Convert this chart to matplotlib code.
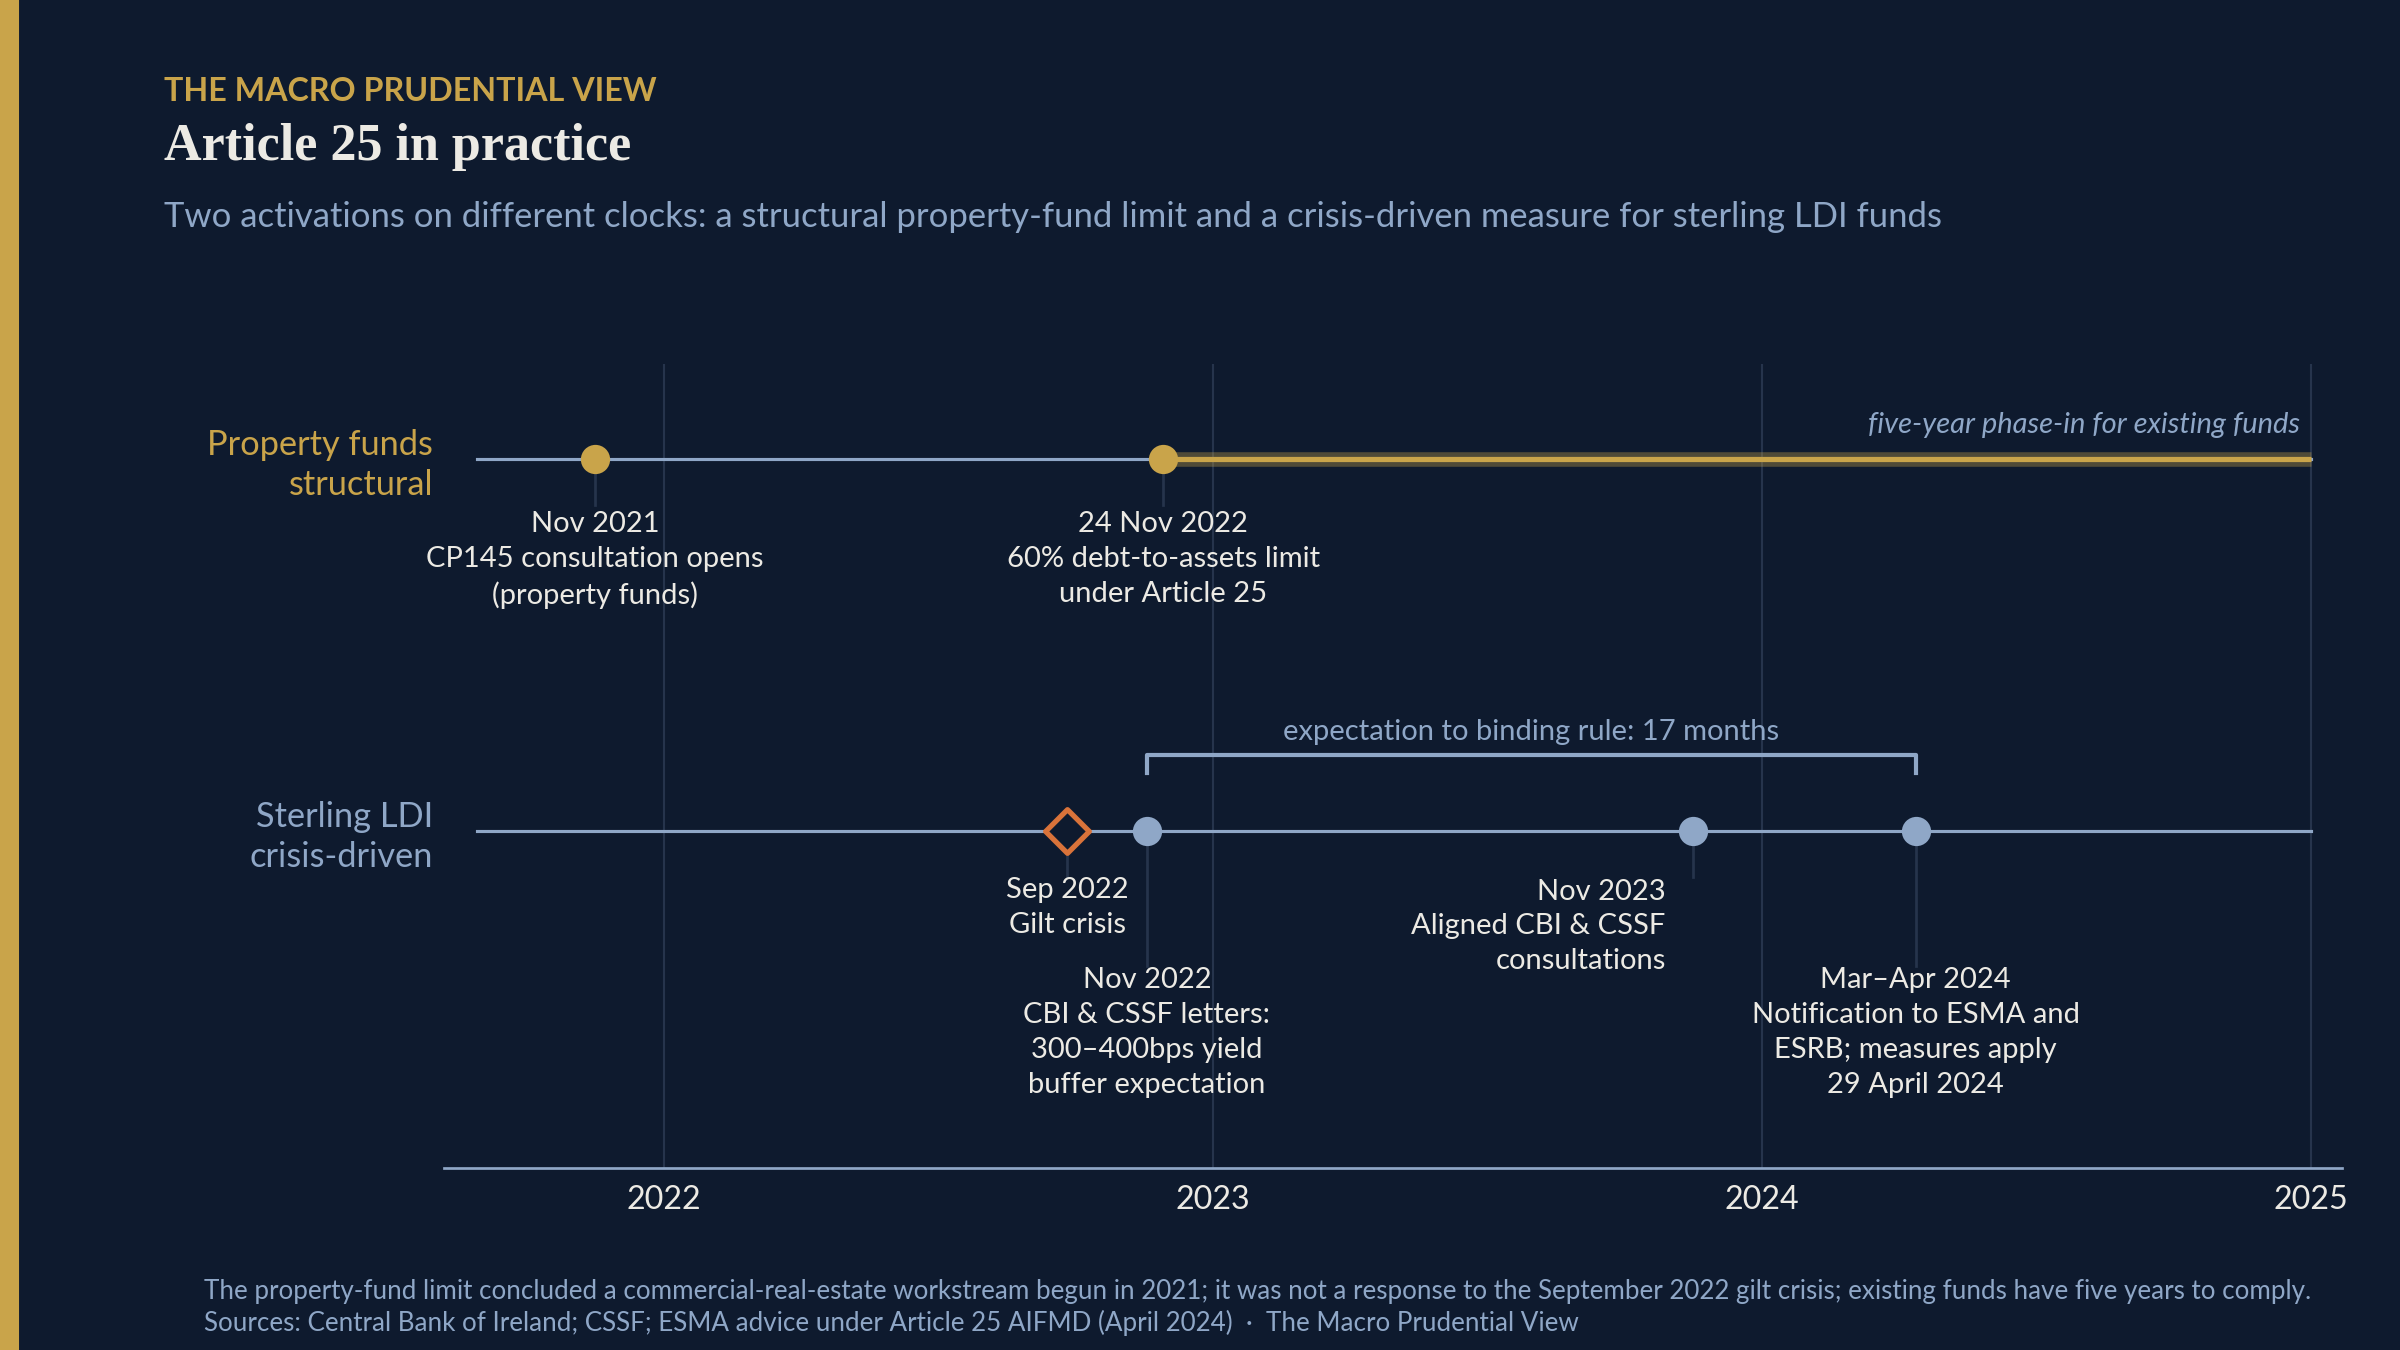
import matplotlib.pyplot as plt

BG = '#0e1a2e'
GOLD = '#c9a44a'
BLUE = '#8fa7c7'
ORANGE = '#d9733a'
TXT = '#eceae4'
GRID = '#26344c'
plt.rcParams['font.family'] = ['Lato', 'DejaVu Sans']

years = [2022, 2023, 2024, 2025]
rows = ['Property funds\nstructural', 'Sterling LDI\ncrisis-driven']
row_y = [463, 220]
row_colors = [GOLD, BLUE]

prop_x = [2021.875, 2022.91]
prop_labels = ['Nov 2021\nCP145 consultation opens\n(property funds)',
               '24 Nov 2022\n60% debt-to-assets limit\nunder Article 25']
gilt_x = 2022.735
gilt_label = 'Sep 2022\nGilt crisis'
ldi_x = [2022.88, 2023.875, 2024.28]
ldi_labels = ['Nov 2022\nCBI & CSSF letters:\n300–400bps yield\nbuffer expectation',
              'Nov 2023\nAligned CBI & CSSF\nconsultations',
              'Mar–Apr 2024\nNotification to ESMA and\nESRB; measures apply\n29 April 2024']
ldi_drop = [88, 30, 88]
ldi_ha = ['center', 'right', 'center']

fig = plt.figure(figsize=(16, 9), dpi=150, facecolor=BG)
fig.patches.append(plt.Rectangle((0, 0), 12 / 1568, 1, transform=fig.transFigure, color=GOLD))
ax = fig.add_axes([290 / 1568, 1 - 763 / 882, 1240 / 1568, 525 / 882])
ax.set_facecolor(BG)
ax.set_xlim(2021.60, 2025.056)
ax.set_ylim(0, 525)
for s in ['top', 'right', 'left']:
    ax.spines[s].set_visible(False)
ax.spines['bottom'].set_color(BLUE)
ax.spines['bottom'].set_linewidth(1.3)
ax.set_yticks([])
ax.set_xticks(years)
ax.tick_params(axis='x', length=0, colors=TXT, labelsize=15.5, pad=8)
for y in years:
    ax.axvline(y, color=GRID, lw=1, zorder=0)

# base lines
for y in row_y:
    ax.plot([2021.66, 2025], [y, y], color=BLUE, lw=1.5, zorder=1)

# row labels
for lab, y, c in zip(rows, row_y, row_colors):
    ax.text(2021.58, y - 4, lab, color=c, fontsize=16.5, ha='right', va='center', linespacing=1.3)

# property row
ax.plot([prop_x[1], 2025], [row_y[0]] * 2, color=GOLD, lw=7, alpha=0.35, zorder=2, solid_capstyle='butt')
ax.plot([prop_x[1], 2025], [row_y[0]] * 2, color=GOLD, lw=2.5, zorder=3, solid_capstyle='butt')
ax.text(2024.98, row_y[0] + 14, 'five-year phase-in for existing funds', color=BLUE,
        fontsize=14, style='italic', ha='right', va='bottom')
for x, lab in zip(prop_x, prop_labels):
    ax.plot([x, x], [row_y[0], row_y[0] - 30], color=GRID, lw=1.3, zorder=2)
    ax.scatter([x], [row_y[0]], s=170, color=GOLD, zorder=5)
    ax.text(x, row_y[0] - 34, lab, color=TXT, fontsize=14, ha='center', va='top', linespacing=1.42)

# LDI row
ax.plot([gilt_x, gilt_x], [row_y[1], row_y[1] - 30], color=GRID, lw=1.3, zorder=2)
ax.scatter([gilt_x], [row_y[1]], s=220, marker='D', facecolor=BG, edgecolor=ORANGE, linewidth=2.5, zorder=5)
ax.text(gilt_x, row_y[1] - 30, gilt_label, color=TXT, fontsize=14, ha='center', va='top', linespacing=1.42)
for x, lab, d, ha in zip(ldi_x, ldi_labels, ldi_drop, ldi_ha):
    ax.plot([x, x], [row_y[1], row_y[1] - d], color=GRID, lw=1.3, zorder=2)
    ax.scatter([x], [row_y[1]], s=170, color=BLUE, zorder=5)
    tx = x - 0.05 if ha == 'right' else x
    ax.text(tx, row_y[1] - d - 1, lab, color=TXT, fontsize=14, ha=ha, va='top', linespacing=1.42)

# bracket
by = 270
ax.plot([ldi_x[0], ldi_x[0], ldi_x[2], ldi_x[2]], [by - 12, by, by, by - 12], color=BLUE, lw=2)
ax.text((ldi_x[0] + ldi_x[2]) / 2, by + 6, 'expectation to binding rule: 17 months', color=BLUE,
        fontsize=14, ha='center', va='bottom')

# header
fig.text(107 / 1568, 1 - 60 / 882, '  '.join(' '.join('THE MACRO PRUDENTIAL VIEW'.split(' '))).replace('     ', '    '),
         color=GOLD, fontsize=14.5, fontweight='bold', va='center') if False else None
kicker = fig.text(107 / 1568, 1 - 60 / 882, 'THE MACRO PRUDENTIAL VIEW', color=GOLD, fontsize=15.5,
                  fontweight='bold', va='center')
fig.text(107 / 1568, 1 - 96 / 882, 'Article 25 in practice', color=TXT, fontsize=25,
         fontweight='bold', family=['Liberation Serif', 'DejaVu Serif'], va='center')
fig.text(107 / 1568, 1 - 142 / 882, 'Two activations on different clocks: a structural property-fund limit and a '
         'crisis-driven measure for sterling LDI funds', color=BLUE, fontsize=16.6, va='center')

# footer
fig.text(133 / 1568, 1 - 844 / 882, 'The property-fund limit concluded a commercial-real-estate workstream begun in 2021; '
         'it was not a response to the September 2022 gilt crisis; existing funds have five years to comply.',
         color=BLUE, fontsize=12.5, va='center')
fig.text(133 / 1568, 1 - 864 / 882, 'Sources: Central Bank of Ireland; CSSF; ESMA advice under Article 25 AIFMD '
         '(April 2024)  ·  The Macro Prudential View', color=BLUE, fontsize=12.5, va='center')

fig.savefig('out.png', dpi=150, facecolor=BG)
